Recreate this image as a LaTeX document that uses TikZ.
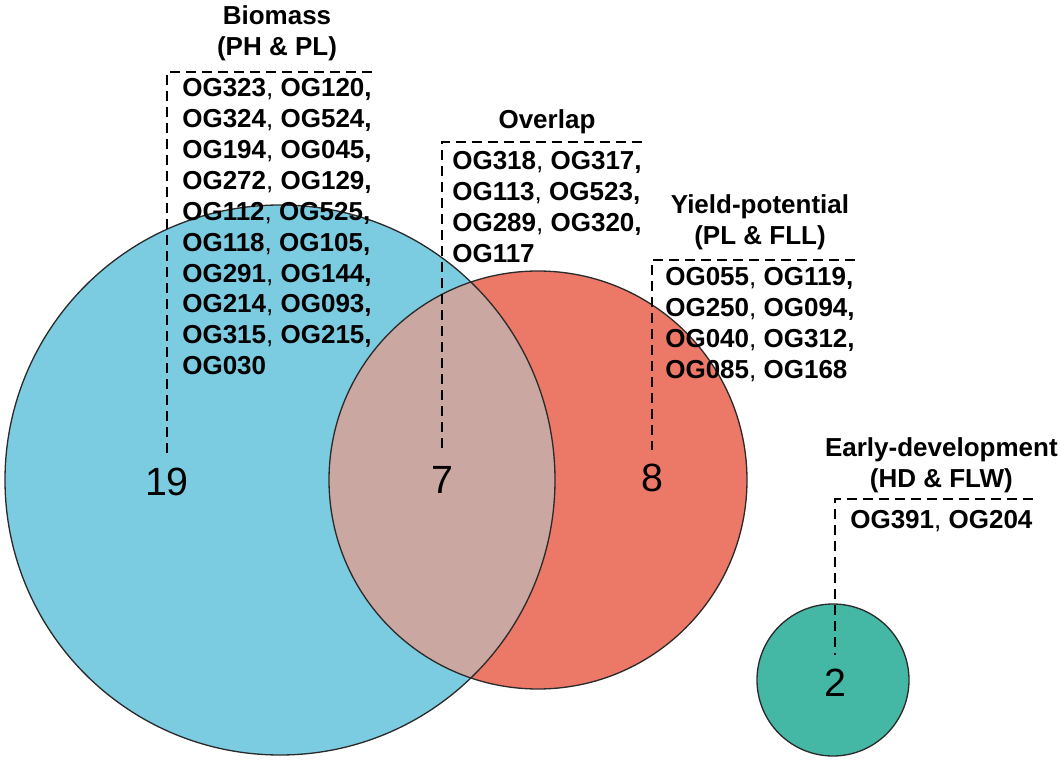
\documentclass[tikz,border=0pt]{standalone}
\usepackage{fontspec}
\setmainfont{Liberation Sans}
\usepackage{tikz}
\usetikzlibrary{positioning}
\definecolor{bioblue}{HTML}{7BCCE0}
\definecolor{yldred}{HTML}{EC7868}
\definecolor{lensrose}{HTML}{CBA7A1}
\definecolor{eldgreen}{HTML}{44B8A5}
\definecolor{rimgray}{HTML}{2B2B2B}
\newcommand{\ogsep}{{\mdseries,} }
\tikzset{
  rim/.style={draw=rimgray,line width=0.33mm},
  leader/.style={black,line width=0.5mm,dash pattern=on 2.4mm off 1.6mm},
  oglist/.style={font=\fontsize{18.5pt}{22pt}\selectfont\bfseries,align=left,inner sep=0pt,anchor=north west},
  grouphead/.style={font=\fontsize{18.5pt}{21.5pt}\selectfont\bfseries,align=center,inner sep=0pt},
  countlbl/.style={font=\fontsize{28pt}{28pt}\selectfont,inner xsep=0pt,inner ysep=3.5mm}
}

\begin{document}
\begin{tikzpicture}[x=0.25mm,y=-0.25mm]
  \useasboundingbox (0,0) rectangle (1060,760);
  % circles
  \coordinate (bioC) at (280,480);
  \coordinate (yldC) at (538,480);
  \coordinate (eldC) at (833,680);
  \fill[bioblue] (bioC) circle[radius=275];
  \fill[yldred] (yldC) circle[radius=209];
  \begin{scope}
    \clip (bioC) circle[radius=275];
    \fill[lensrose] (yldC) circle[radius=209];
  \end{scope}
  \fill[eldgreen] (eldC) circle[radius=76];
  \draw[rim] (bioC) circle[radius=275];
  \draw[rim] (yldC) circle[radius=209];
  \draw[rim] (eldC) circle[radius=76];

  % counts
  \node[countlbl] (bioNum) at (167,482) {19};
  \node[countlbl] (ovlNum) at (442,480) {7};
  \node[countlbl] (yldNum) at (652,478) {8};
  \node[countlbl] (eldNum) at (835,683) {2};

  % gene lists
  \coordinate (bioCorner) at (167,72);
  \coordinate (ovlCorner) at (442,142);
  \coordinate (yldCorner) at (652,260);
  \coordinate (eldCorner) at (835,499);
  \node[oglist] (bioList) at (182,78) {OG323\ogsep OG120,\\OG324\ogsep OG524,\\OG194\ogsep OG045,\\OG272\ogsep OG129,\\OG112\ogsep OG525,\\OG118\ogsep OG105,\\OG291\ogsep OG144,\\OG214\ogsep OG093,\\OG315\ogsep OG215,\\OG030};
  \node[oglist] (ovlList) at (452,151) {OG318\ogsep OG317,\\OG113\ogsep OG523,\\OG289\ogsep OG320,\\OG117};
  \node[oglist] (yldList) at (665,267) {OG055\ogsep OG119,\\OG250\ogsep OG094,\\OG040\ogsep OG312,\\OG085\ogsep OG168};
  \node[oglist] (eldList) at (850,510) {OG391\ogsep OG204};

  % headings
  \node[grouphead,above=4.3mm of bioList] (bioHead) {Biomass\\(PH \& PL)};
  \node[grouphead,above=4.3mm of ovlList] (ovlHead) {Overlap};
  \node[grouphead,above=4.3mm of yldList] (yldHead) {Yield-potential\\(PL \& FLL)};
  \node[grouphead,above=4.3mm of eldList] (eldHead) {Early-development\\(HD \& FLW)};

  % dashed leaders
  \draw[leader] (bioList.east |- bioCorner) -- (bioCorner) -- (bioNum.north);
  \draw[leader] (ovlList.east |- ovlCorner) -- (ovlCorner) -- (ovlNum.north);
  \draw[leader] (yldList.east |- yldCorner) -- (yldCorner) -- (yldNum.north);
  \draw[leader] (eldList.east |- eldCorner) -- (eldCorner) -- (eldNum.north);
\end{tikzpicture}
\end{document}
